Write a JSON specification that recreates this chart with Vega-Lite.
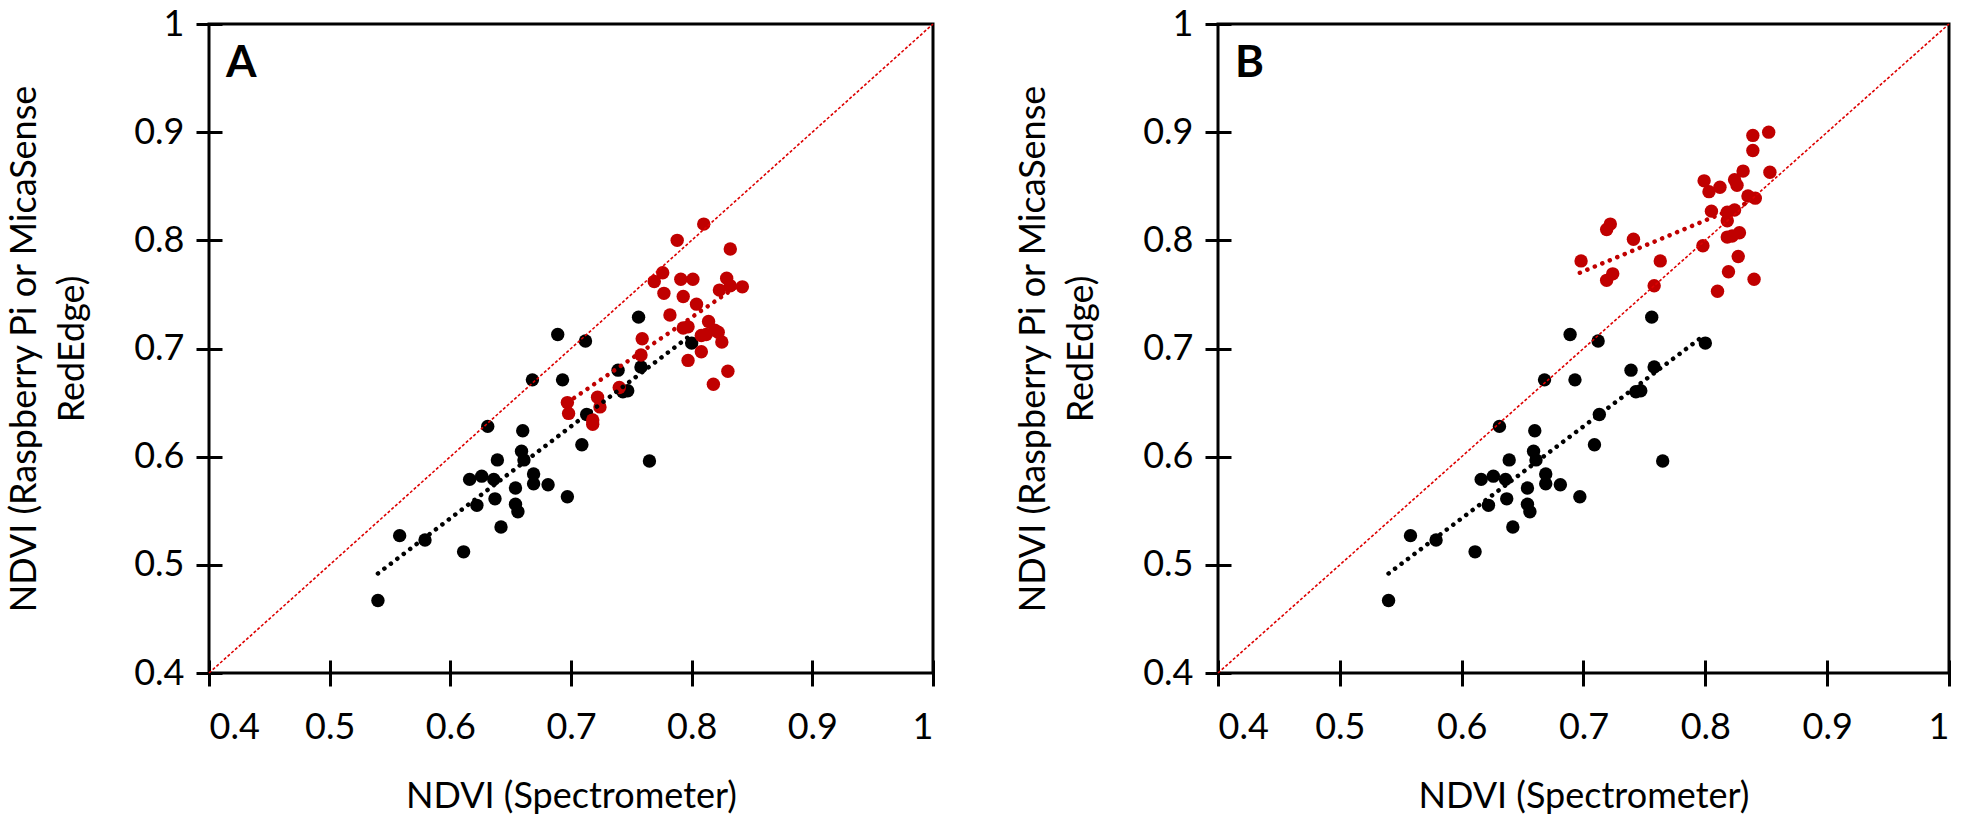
{
  "$schema": "https://vega.github.io/schema/vega-lite/v6.json",
  "background": "white",
  "padding": {"left": 5, "top": 4, "right": 5, "bottom": 5},
  "spacing": 76,
  "config": {
    "font": "Lato",
    "view": {"stroke": "black", "strokeWidth": 3},
    "axis": {
      "grid": false,
      "domain": false,
      "offset": -13,
      "tickColor": "black",
      "tickWidth": 3,
      "tickSize": 26,
      "labelFont": "Lato",
      "labelFontSize": 36,
      "labelColor": "black",
      "titleFont": "Lato",
      "titleFontSize": 36,
      "titleFontWeight": "normal",
      "titleColor": "black"
    }
  },
  "datasets": {
    "black": [
      {"x": 0.540, "y": 0.467}, {"x": 0.558, "y": 0.527}, {"x": 0.579, "y": 0.523}, {"x": 0.611, "y": 0.512},
      {"x": 0.616, "y": 0.579}, {"x": 0.622, "y": 0.555}, {"x": 0.626, "y": 0.582}, {"x": 0.631, "y": 0.628},
      {"x": 0.636, "y": 0.579}, {"x": 0.637, "y": 0.561}, {"x": 0.639, "y": 0.597}, {"x": 0.642, "y": 0.535},
      {"x": 0.654, "y": 0.571}, {"x": 0.654, "y": 0.556}, {"x": 0.656, "y": 0.549}, {"x": 0.659, "y": 0.605},
      {"x": 0.660, "y": 0.624}, {"x": 0.661, "y": 0.597}, {"x": 0.669, "y": 0.584}, {"x": 0.669, "y": 0.575},
      {"x": 0.668, "y": 0.671}, {"x": 0.681, "y": 0.574}, {"x": 0.689, "y": 0.713}, {"x": 0.693, "y": 0.671},
      {"x": 0.697, "y": 0.563}, {"x": 0.709, "y": 0.611}, {"x": 0.712, "y": 0.707}, {"x": 0.713, "y": 0.639},
      {"x": 0.739, "y": 0.680}, {"x": 0.743, "y": 0.660}, {"x": 0.747, "y": 0.661}, {"x": 0.756, "y": 0.729},
      {"x": 0.758, "y": 0.683}, {"x": 0.765, "y": 0.596}, {"x": 0.800, "y": 0.705}
    ],
    "redA": [
      {"x": 0.810, "y": 0.815}, {"x": 0.788, "y": 0.800}, {"x": 0.832, "y": 0.792}, {"x": 0.776, "y": 0.770},
      {"x": 0.769, "y": 0.762}, {"x": 0.791, "y": 0.764}, {"x": 0.801, "y": 0.764}, {"x": 0.829, "y": 0.765},
      {"x": 0.842, "y": 0.757}, {"x": 0.823, "y": 0.754}, {"x": 0.832, "y": 0.758}, {"x": 0.777, "y": 0.751},
      {"x": 0.793, "y": 0.748}, {"x": 0.804, "y": 0.741}, {"x": 0.782, "y": 0.731}, {"x": 0.814, "y": 0.725},
      {"x": 0.793, "y": 0.719}, {"x": 0.797, "y": 0.720}, {"x": 0.808, "y": 0.712}, {"x": 0.812, "y": 0.713},
      {"x": 0.819, "y": 0.717}, {"x": 0.822, "y": 0.715}, {"x": 0.825, "y": 0.706}, {"x": 0.808, "y": 0.697},
      {"x": 0.797, "y": 0.689}, {"x": 0.830, "y": 0.679}, {"x": 0.818, "y": 0.667}, {"x": 0.759, "y": 0.709},
      {"x": 0.758, "y": 0.694}, {"x": 0.697, "y": 0.650}, {"x": 0.698, "y": 0.640}, {"x": 0.722, "y": 0.655},
      {"x": 0.724, "y": 0.646}, {"x": 0.718, "y": 0.634}, {"x": 0.718, "y": 0.630}, {"x": 0.740, "y": 0.664}
    ],
    "redB": [
      {"x": 0.698, "y": 0.781}, {"x": 0.719, "y": 0.810}, {"x": 0.722, "y": 0.815}, {"x": 0.719, "y": 0.763},
      {"x": 0.724, "y": 0.769}, {"x": 0.741, "y": 0.801}, {"x": 0.763, "y": 0.781}, {"x": 0.758, "y": 0.758},
      {"x": 0.798, "y": 0.795}, {"x": 0.810, "y": 0.753}, {"x": 0.799, "y": 0.855}, {"x": 0.803, "y": 0.845},
      {"x": 0.812, "y": 0.849}, {"x": 0.805, "y": 0.827}, {"x": 0.824, "y": 0.856}, {"x": 0.831, "y": 0.864},
      {"x": 0.826, "y": 0.851}, {"x": 0.839, "y": 0.897}, {"x": 0.852, "y": 0.900}, {"x": 0.839, "y": 0.883},
      {"x": 0.853, "y": 0.863}, {"x": 0.835, "y": 0.841}, {"x": 0.841, "y": 0.839}, {"x": 0.818, "y": 0.826},
      {"x": 0.824, "y": 0.828}, {"x": 0.818, "y": 0.818}, {"x": 0.818, "y": 0.803}, {"x": 0.828, "y": 0.807},
      {"x": 0.822, "y": 0.804}, {"x": 0.827, "y": 0.785}, {"x": 0.819, "y": 0.771}, {"x": 0.840, "y": 0.764}
    ],
    "trendA": [
      {"series": "black", "x": 0.540, "y": 0.492}, {"series": "black", "x": 0.800, "y": 0.713},
      {"series": "red", "x": 0.697, "y": 0.650}, {"series": "red", "x": 0.842, "y": 0.761}
    ],
    "trendB": [
      {"series": "black", "x": 0.540, "y": 0.492}, {"series": "black", "x": 0.800, "y": 0.713},
      {"series": "red", "x": 0.697, "y": 0.770}, {"series": "red", "x": 0.848, "y": 0.841}
    ],
    "diag": [
      {"x": 0.4, "y": 0.4}, {"x": 1.0, "y": 1.0}
    ]
  },
  "hconcat": [
    {
      "width": 724,
      "height": 649,
      "layer": [
        {
          "data": {"name": "black"},
          "mark": {"type": "circle", "size": 180, "opacity": 1, "color": "black"},
          "encoding": {
            "x": {"field": "x", "type": "quantitative", "scale": {"domain": [0.4, 1], "nice": false, "zero": false},
                  "axis": {"orient": "bottom", "values": [0.4, 0.5, 0.6, 0.7, 0.8, 0.9, 1], "format": "~g", "title": "NDVI (Spectrometer)", "labelPadding": 24, "titlePadding": 34}},
            "y": {"field": "y", "type": "quantitative", "scale": {"domain": [0.4, 1], "nice": false, "zero": false},
                  "axis": {"orient": "left", "values": [0.4, 0.5, 0.6, 0.7, 0.8, 0.9, 1], "format": "~g", "title": ["NDVI (Raspberry Pi or MicaSense", "RedEdge)"], "titleLineHeight": 48, "labelPadding": 12, "titlePadding": 42}}
          }
        },
        {
          "data": {"name": "redA"},
          "mark": {"type": "circle", "size": 180, "opacity": 1, "color": "#c00000"},
          "encoding": {
            "x": {"field": "x", "type": "quantitative"},
            "y": {"field": "y", "type": "quantitative"}
          }
        },
        {
          "data": {"name": "diag"},
          "mark": {"type": "line", "color": "#dd0000", "strokeWidth": 1.6, "strokeDash": [3, 2]},
          "encoding": {
            "x": {"field": "x", "type": "quantitative"},
            "y": {"field": "y", "type": "quantitative"}
          }
        },
        {
          "data": {"name": "trendA"},
          "mark": {"type": "line", "strokeWidth": 4.5, "strokeDash": [0.1, 8], "strokeCap": "round"},
          "encoding": {
            "x": {"field": "x", "type": "quantitative"},
            "y": {"field": "y", "type": "quantitative"},
            "color": {"field": "series", "type": "nominal", "scale": {"domain": ["black", "red"], "range": ["#000000", "#c00000"]}, "legend": null}
          }
        },
        {
          "data": {"values": [{"label": "A"}]},
          "mark": {"type": "text", "font": "Lato", "fontSize": 44, "fontWeight": "bold", "align": "left", "baseline": "middle", "color": "black"},
          "encoding": {
            "x": {"datum": 0.414, "type": "quantitative"},
            "y": {"datum": 0.963, "type": "quantitative"},
            "text": {"field": "label"}
          }
        }
      ]
    },
    {
      "width": 731,
      "height": 649,
      "layer": [
        {
          "data": {"name": "black"},
          "mark": {"type": "circle", "size": 180, "opacity": 1, "color": "black"},
          "encoding": {
            "x": {"field": "x", "type": "quantitative", "scale": {"domain": [0.4, 1], "nice": false, "zero": false},
                  "axis": {"orient": "bottom", "values": [0.4, 0.5, 0.6, 0.7, 0.8, 0.9, 1], "format": "~g", "title": "NDVI (Spectrometer)", "labelPadding": 24, "titlePadding": 34}},
            "y": {"field": "y", "type": "quantitative", "scale": {"domain": [0.4, 1], "nice": false, "zero": false},
                  "axis": {"orient": "left", "values": [0.4, 0.5, 0.6, 0.7, 0.8, 0.9, 1], "format": "~g", "title": ["NDVI (Raspberry Pi or MicaSense", "RedEdge)"], "titleLineHeight": 48, "labelPadding": 12, "titlePadding": 42}}
          }
        },
        {
          "data": {"name": "redB"},
          "mark": {"type": "circle", "size": 180, "opacity": 1, "color": "#c00000"},
          "encoding": {
            "x": {"field": "x", "type": "quantitative"},
            "y": {"field": "y", "type": "quantitative"}
          }
        },
        {
          "data": {"name": "diag"},
          "mark": {"type": "line", "color": "#dd0000", "strokeWidth": 1.6, "strokeDash": [3, 2]},
          "encoding": {
            "x": {"field": "x", "type": "quantitative"},
            "y": {"field": "y", "type": "quantitative"}
          }
        },
        {
          "data": {"name": "trendB"},
          "mark": {"type": "line", "strokeWidth": 4.5, "strokeDash": [0.1, 8], "strokeCap": "round"},
          "encoding": {
            "x": {"field": "x", "type": "quantitative"},
            "y": {"field": "y", "type": "quantitative"},
            "color": {"field": "series", "type": "nominal", "scale": {"domain": ["black", "red"], "range": ["#000000", "#c00000"]}, "legend": null}
          }
        },
        {
          "data": {"values": [{"label": "B"}]},
          "mark": {"type": "text", "font": "Lato", "fontSize": 44, "fontWeight": "bold", "align": "left", "baseline": "middle", "color": "black"},
          "encoding": {
            "x": {"datum": 0.414, "type": "quantitative"},
            "y": {"datum": 0.963, "type": "quantitative"},
            "text": {"field": "label"}
          }
        }
      ]
    }
  ]
}
